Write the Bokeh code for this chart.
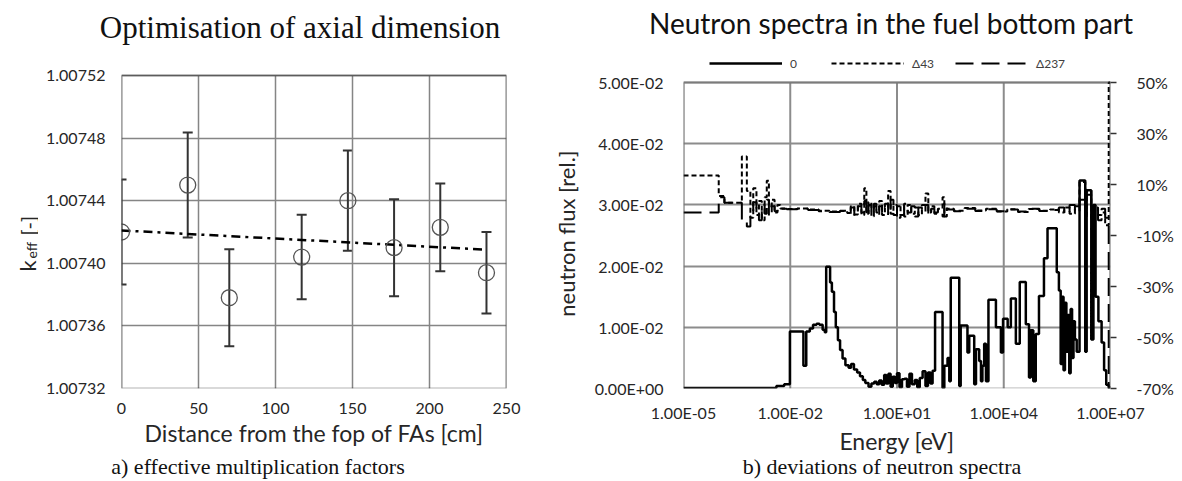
import numpy as np
from bokeh.plotting import figure
from bokeh.models import (Range1d, LinearAxis, FixedTicker, PrintfTickFormatter,
                          CustomJSTickFormatter, Label, Legend, LegendItem, Whisker,
                          TeeHead, ColumnDataSource, BoxAnnotation, Div)
from bokeh.layouts import row, column
from bokeh.embed import file_html
from bokeh.resources import INLINE

# ---------------- data: panel a ----------------
distance_cm = [0, 43, 70, 117, 147, 177, 207, 237]
keff = [1.007420, 1.007450, 1.007378, 1.007404, 1.007440, 1.007410, 1.007423, 1.007394]
keff_err = [0.0000335, 0.0000335, 0.000031, 0.000027, 0.000032, 0.000031, 0.000028, 0.000026]
trend_x = [0, 237]
trend_y = [1.007421, 1.0074087]
a_xticks = [0, 50, 100, 150, 200, 250]
a_yticks = [1.00732, 1.00736, 1.00740, 1.00744, 1.00748, 1.00752]

# ---------------- data: panel b ----------------
# group boundaries (log10 of energy in eV) and flux of reference case "0"
spec_edges_log10 = [-5.00, -2.39, -2.17, -2.01, -1.63, -1.55, -1.45, -1.36, -1.26, -1.18,
                    -1.09, -1.03, -0.99, -0.88, -0.83, -0.77, -0.72, -0.66, -0.60, -0.53,
                    -0.45, -0.36, -0.29, -0.21, -0.12, -0.04, 0.04, 0.11, 0.20, 0.28,
                    0.36, 0.43, 0.50, 0.57, 0.64, 0.70, 0.76, 0.82, 0.88, 0.94,
                    1.00, 1.07, 1.14, 1.21, 1.28, 1.35, 1.42, 1.50, 1.57, 1.64,
                    1.72, 1.80, 1.87, 1.94, 2.00, 2.07, 2.28, 2.33, 2.42, 2.47,
                    2.51, 2.75, 2.79, 2.98, 3.03, 3.17, 3.22, 3.31, 3.36, 3.40,
                    3.45, 3.50, 3.57, 3.78, 3.92, 3.98, 4.11, 4.20, 4.34, 4.45,
                    4.62, 4.71, 4.76, 4.83, 4.90, 4.99, 5.13, 5.23, 5.49, 5.55,
                    5.60, 5.64, 5.68, 5.72, 5.76, 5.80, 5.84, 5.88, 5.92, 5.96,
                    6.00, 6.05, 6.13, 6.29, 6.33, 6.46, 6.52, 6.58, 6.66, 6.75,
                    6.82, 6.88, 6.95, 7.00]
flux_0 = [0.0001, 0.0004, 0.0007, 0.0093, 0.0037, 0.0093, 0.0098, 0.0104, 0.0106, 0.0104,
          0.0096, 0.0092, 0.0199, 0.0173, 0.0158, 0.0125, 0.0100, 0.0079, 0.0063, 0.0049,
          0.0038, 0.0034, 0.0040, 0.0031, 0.0026, 0.0020, 0.0014, 0.0009, 0.0003, 0.0008,
          0.0011, 0.0007, 0.0013, 0.0006, 0.0022, 0.0008, 0.0024, 0.0003, 0.0019, 0.0009,
          0.0025, 0.0002, 0.0015, 0.0016, 0.0003, 0.0024, 0.0007, 0.0014, 0.0002, 0.0017,
          0.0028, 0.0004, 0.0026, 0.0008, 0.0029, 0.0125, 0.0001, 0.0037, 0.0050, 0.0012,
          0.0181, 0.0004, 0.0103, 0.0059, 0.0086, 0.0007, 0.0064, 0.0045, 0.0012, 0.0037,
          0.0073, 0.0012, 0.0145, 0.0100, 0.0059, 0.0114, 0.0100, 0.0147, 0.0073, 0.0174,
          0.0105, 0.0018, 0.0095, 0.0012, 0.0089, 0.0151, 0.0213, 0.0262, 0.0190, 0.0160,
          0.0040, 0.0150, 0.0030, 0.0140, 0.0060, 0.0120, 0.0025, 0.0130, 0.0050, 0.0110,
          0.0080, 0.0060, 0.0340, 0.0060, 0.0324, 0.0080, 0.0300, 0.0150, 0.0110, 0.0075,
          0.0030, 0.0006, 0.0002]

# deviations [%] of the shifted cases
dev_edges_log10 = [-5.00, -4.01, -3.85, -3.36, -3.22, -3.12, -3.04, -2.95, -2.88, -2.80,
                   -2.72, -2.66, -2.60, -2.52, -2.44, -2.36, -2.28, -2.10, -1.80, -1.50,
                   -1.20, -0.90, -0.60, -0.40, -0.30, -0.20, -0.10, 0.00, 0.08, 0.14,
                   0.20, 0.28, 0.35, 0.42, 0.50, 0.58, 0.66, 0.75, 0.82, 0.90,
                   1.00, 1.10, 1.20, 1.30, 1.40, 1.50, 1.60, 1.70, 1.80, 1.88,
                   1.96, 2.05, 2.15, 2.28, 2.33, 2.40, 2.60, 2.90, 3.20, 3.50,
                   3.80, 4.10, 4.40, 4.70, 5.00, 5.30, 5.55, 5.70, 5.85, 6.00,
                   6.13, 6.29, 6.33, 6.46, 6.55, 6.65, 6.75, 6.85, 6.95, 7.00]
dev_43 = [13.5, 5.5, 2.8, 21.0, 7.5, -3.0, 8.5, -2.0, 3.5, -4.0,
          5.0, 11.5, 1.5, 4.0, -1.0, 2.0, 0.6, 0.4, 0.6, 0.2,
          -0.3, -0.6, -0.4, -1.2, 1.5, -1.8, 2.5, -2.0, 8.5, -1.5,
          3.0, -2.5, 1.5, -1.0, 3.5, -2.0, 1.0, 7.5, -1.5, 2.0,
          -3.0, 1.5, -2.5, 2.0, -1.5, 1.0, -2.0, 2.0, 6.5, -1.0,
          1.5, -1.5, 0.5, 5.0, -2.5, 0.5, -0.3, 0.8, -0.2, 0.5,
          -0.6, 0.3, -0.8, 0.4, -0.3, 0.2, -1.0, 1.0, -1.5, 1.5,
          11.0, -3.0, 7.8, -4.0, 1.0, -2.0, -1.0, -6.0, 50.0]
dev_237 = [-1.0, 5.0, 2.8, -4.5, -6.5, -2.5, 3.0, -1.0, -4.0, 2.0,
           -1.5, 4.0, -2.5, 1.5, -0.5, 1.0, 0.5, 0.3, 0.5, 0.0,
           -0.5, -0.8, -0.3, -1.5, 1.0, -2.3, 1.5, -1.0, 3.5, -2.5,
           2.0, -1.8, 2.5, -2.0, 1.5, -1.0, 2.5, -2.0, 4.0, -2.0,
           1.5, -2.0, 2.5, -1.0, 1.5, -2.5, 1.0, -1.0, 2.0, -2.0,
           0.5, -1.0, 0.3, -2.5, 3.0, 0.2, -0.5, 0.5, -0.4, 0.3,
           -0.5, 0.2, -0.6, 0.5, -0.4, 0.0, 1.0, -1.5, 2.0, -1.0,
           4.0, -2.0, 6.0, -3.0, 2.0, -4.0, 0.5, -3.0, -75.0]
b_flux_ticks = [0.0, 0.01, 0.02, 0.03, 0.04, 0.05]
b_energy_ticks = [1e-5, 1e-2, 1e1, 1e4, 1e7]
b_dev_ticks = [-70, -50, -30, -10, 10, 30, 50]

assert len(spec_edges_log10) == len(flux_0) + 1
assert len(dev_edges_log10) == len(dev_43) + 1 == len(dev_237) + 1

SANS = "Lato"
SERIF = "Liberation Serif"
TXT = "#262626"

# ---------------- page geometry (px) ----------------
TOP_ROW = 50                 # row with the two titles; plot frames start here
FRAME_BOTTOM = 388           # shared bottom of the plot frames
BORDER_BOTTOM = 74           # room for the x axes
MAIN_END = FRAME_BOTTOM + BORDER_BOTTOM
MAIN_H = MAIN_END - TOP_ROW
CAPTION_H = 481 - MAIN_END
A_BOX_TOP = 75               # visible box top of panel a
B_BOX_TOP = 82               # visible box top of panel b
FRAME_PX = FRAME_BOTTOM - TOP_ROW


def style_axis(ax, size="16px"):
    ax.axis_line_color = None
    ax.major_tick_line_color = None
    ax.minor_tick_line_color = None
    ax.major_tick_out = 0
    ax.major_tick_in = 0
    ax.minor_tick_out = 0
    ax.minor_tick_in = 0
    ax.major_label_text_font = SANS
    ax.major_label_text_font_size = size
    ax.major_label_text_color = TXT
    ax.axis_label_text_font = SANS
    ax.axis_label_text_font_style = "normal"
    ax.axis_label_text_color = TXT


def text_div(txt, width, height, font, size, line_height, shift=0):
    return Div(text=txt, width=width, height=height, margin=0,
               styles={"font-family": font, "font-size": size, "text-align": "center",
                       "line-height": line_height, "color": "#111111",
                       "white-space": "nowrap", "overflow": "visible",
                       "position": "relative", "top": f"{shift}px"})


# ============ narrow strip holding the k_eff axis label ============
pk = figure(width=38, height=MAIN_H, x_range=Range1d(0, 38),
            y_range=Range1d(FRAME_BOTTOM, TOP_ROW),
            output_backend="svg", toolbar_location=None, title_location=None,
            x_axis_location=None, y_axis_location=None,
            min_border_left=0, min_border_right=0, min_border_top=0,
            min_border_bottom=BORDER_BOTTOM)
pk.outline_line_color = None
pk.xgrid.visible = False
pk.ygrid.visible = False
pk.add_layout(Label(x=27, y=271, text="k", angle=np.pi / 2, text_font=SANS,
                    text_font_size="22px", text_align="left", text_baseline="alphabetic",
                    text_color=TXT))
pk.add_layout(Label(x=31, y=258, text="eff", angle=np.pi / 2, text_font=SANS,
                    text_font_size="14px", text_align="left", text_baseline="alphabetic",
                    text_color=TXT))
pk.add_layout(Label(x=27, y=235, text="[-]", angle=np.pi / 2, text_font=SANS,
                    text_font_size="20px", text_align="left", text_baseline="alphabetic",
                    text_color=TXT))

# ================= panel a =================
# frame extends above the box; the box and vertical grid lines are drawn to the box
a_top = a_yticks[0] + (a_yticks[-1] - a_yticks[0]) * FRAME_PX / (FRAME_BOTTOM - A_BOX_TOP)
p1 = figure(width=510, height=MAIN_H, x_range=Range1d(a_xticks[0], a_xticks[-1]),
            y_range=Range1d(a_yticks[0], a_top),
            output_backend="svg", toolbar_location=None, title_location=None,
            min_border_left=83, min_border_right=42, min_border_top=0,
            min_border_bottom=BORDER_BOTTOM)
p1.outline_line_color = None
p1.xaxis.ticker = FixedTicker(ticks=a_xticks)
p1.yaxis.ticker = FixedTicker(ticks=a_yticks)
p1.yaxis.formatter = PrintfTickFormatter(format="%.5f")
for ax in (p1.xaxis[0], p1.yaxis[0]):
    style_axis(ax, "16px")
p1.xaxis.major_label_standoff = 14
p1.yaxis.major_label_standoff = 16
p1.xaxis.axis_label = "Distance from the fop of FAs [cm]"
p1.xaxis.axis_label_text_font_size = "23px"
p1.xaxis.axis_label_standoff = 2
p1.xgrid.visible = False
p1.ygrid.grid_line_color = "#858585"
p1.ygrid.grid_line_width = 1.5
p1.segment(x0=a_xticks, y0=[a_yticks[0]] * len(a_xticks), x1=a_xticks,
           y1=[a_yticks[-1]] * len(a_xticks), line_color="#858585", line_width=1.5)
p1.add_layout(BoxAnnotation(left=a_xticks[0], right=a_xticks[-1], bottom=a_yticks[0],
                            top=a_yticks[-1], fill_alpha=0, line_color="black",
                            line_width=2))

p1.line(trend_x, trend_y, line_color="black", line_width=2.5, line_dash="9 5 3 5")
src = ColumnDataSource(dict(x=distance_cm, y=keff,
                            lo=[k - e for k, e in zip(keff, keff_err)],
                            hi=[k + e for k, e in zip(keff, keff_err)]))
p1.add_layout(Whisker(base="x", lower="lo", upper="hi", source=src,
                      line_color="#333333", line_width=2,
                      upper_head=TeeHead(size=10, line_color="#333333", line_width=2),
                      lower_head=TeeHead(size=10, line_color="#333333", line_width=2)))
p1.scatter("x", "y", source=src, marker="circle", size=16, fill_color=None,
           line_color="#555555", line_width=1.3)

# ================= panel b =================
b_scale = FRAME_PX / (FRAME_BOTTOM - B_BOX_TOP)
flux_top = b_flux_ticks[0] + (b_flux_ticks[-1] - b_flux_ticks[0]) * b_scale
dev_top = b_dev_ticks[0] + (b_dev_ticks[-1] - b_dev_ticks[0]) * b_scale

p2 = figure(width=634, height=MAIN_H, x_axis_type="log",
            x_range=Range1d(b_energy_ticks[0], b_energy_ticks[-1]),
            y_range=Range1d(b_flux_ticks[0], flux_top), output_backend="svg",
            toolbar_location=None, title_location=None,
            min_border_left=135, min_border_right=72, min_border_top=0,
            min_border_bottom=BORDER_BOTTOM)
p2.extra_y_ranges = {"dev": Range1d(b_dev_ticks[0], dev_top)}
p2.outline_line_color = None

sci = CustomJSTickFormatter(code="""
    const s = tick.toExponential(2).toUpperCase();
    const parts = s.split("E");
    const e = parts[1];
    const sign = e[0] == "-" ? "-" : "+";
    const d = e.replace("+", "").replace("-", "").padStart(2, "0");
    return parts[0] + "E" + sign + d;
""")
p2.xaxis.ticker = FixedTicker(ticks=b_energy_ticks)
p2.xaxis.formatter = sci
p2.yaxis.ticker = FixedTicker(ticks=b_flux_ticks)
p2.yaxis.formatter = sci
for ax in (p2.xaxis[0], p2.yaxis[0]):
    style_axis(ax, "16px")
p2.xaxis.major_label_standoff = 14
p2.yaxis.major_label_standoff = 20
p2.xaxis.axis_label = "Energy [eV]"
p2.xaxis.axis_label_text_font_size = "23px"
p2.xaxis.axis_label_standoff = 2
p2.yaxis.axis_label = "neutron flux [rel.]" + "\u00a0" * 5
p2.yaxis.axis_label_text_font_size = "22px"
p2.yaxis.axis_label_standoff = 12
p2.xgrid.visible = False
p2.ygrid.grid_line_color = "#8c8c8c"
p2.ygrid.grid_line_width = 2
p2.segment(x0=b_energy_ticks, y0=[b_flux_ticks[0]] * len(b_energy_ticks),
           x1=b_energy_ticks, y1=[b_flux_ticks[-1]] * len(b_energy_ticks),
           line_color="#8c8c8c", line_width=2)

rax = LinearAxis(y_range_name="dev", ticker=FixedTicker(ticks=b_dev_ticks),
                 formatter=PrintfTickFormatter(format="%d%%"))
style_axis(rax, "16px")
rax.major_tick_line_color = "#333333"
rax.major_tick_line_width = 1.5
rax.major_tick_out = 6
rax.major_label_standoff = 20
p2.add_layout(rax, "right")

spec_x = 10.0 ** np.array(spec_edges_log10)
spec_y = flux_0 + [flux_0[-1]]
dev_x = 10.0 ** np.array(dev_edges_log10)

r43 = p2.step(dev_x, dev_43 + [dev_43[-1]], mode="after", y_range_name="dev",
              line_color="black", line_width=2, line_dash="5 3")
r237 = p2.step(dev_x, dev_237 + [dev_237[-1]], mode="after", y_range_name="dev",
               line_color="black", line_width=2, line_dash="18 8")
r0 = p2.step(spec_x, spec_y, mode="after", line_color="black", line_width=2.5)

p2.add_layout(BoxAnnotation(left=b_energy_ticks[0], right=b_energy_ticks[-1],
                            bottom=b_flux_ticks[0], top=b_flux_ticks[-1],
                            fill_alpha=0, line_color="#555555", line_width=2.5))

legend = Legend(items=[LegendItem(label="0", renderers=[r0]),
                       LegendItem(label="Δ43", renderers=[r43]),
                       LegendItem(label="Δ237", renderers=[r237])],
                location=(26, FRAME_BOTTOM - 73), orientation="horizontal",
                glyph_width=73, glyph_height=20, label_height=20, label_standoff=8,
                spacing=21, padding=0, margin=0, border_line_color=None,
                background_fill_alpha=0, label_text_font=SANS,
                label_text_font_size="12px", label_text_color="#404040")
p2.add_layout(legend)

# ================= titles and captions =================
title_row = row(text_div("Optimisation of axial dimension", 600, TOP_ROW, SERIF, "31px",
                         "56px"),
                text_div("Neutron spectra in the fuel bottom part", 582, TOP_ROW, SANS,
                         "28px", "46px"),
                spacing=0)
caption_row = row(text_div("a) effective multiplication factors", 516, CAPTION_H, SERIF,
                           "22px", f"{CAPTION_H}px", shift=-5),
                  text_div("", 84, CAPTION_H, SERIF, "22px", f"{CAPTION_H}px"),
                  text_div("b) deviations of neutron spectra", 564, CAPTION_H, SERIF,
                           "22px", f"{CAPTION_H}px", shift=-5),
                  spacing=0)
main_row = row(pk, p1, p2, spacing=0)
layout = column(title_row, main_row, caption_row, spacing=0)
open("out.html", "w").write(file_html(layout, INLINE))
